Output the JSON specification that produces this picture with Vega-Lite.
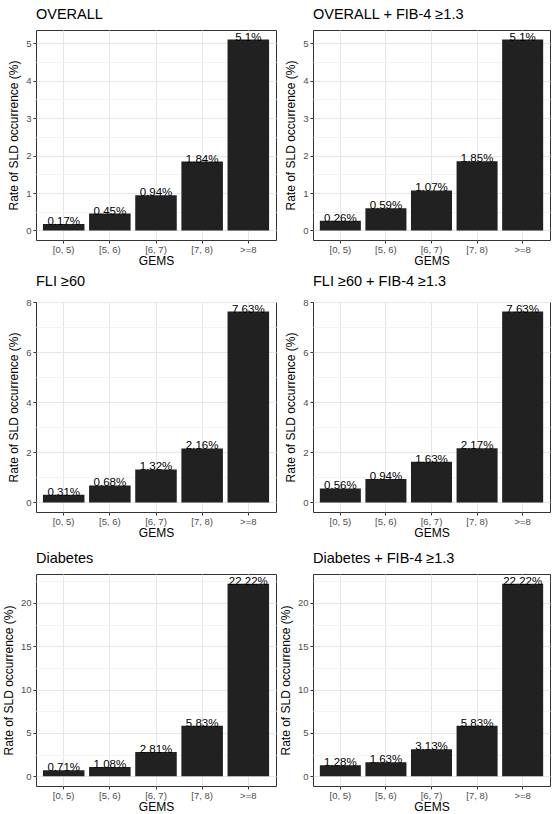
{
  "$schema": "https://vega.github.io/schema/vega-lite/v6.json",
  "padding": {"left": 1, "top": 6, "right": 0, "bottom": 0},
  "background": "white",
  "data": {"values": [
    {"panel": "OVERALL", "gems": "[0, 5)", "rate": 0.17, "label": "0.17%"},
    {"panel": "OVERALL", "gems": "[5, 6)", "rate": 0.45, "label": "0.45%"},
    {"panel": "OVERALL", "gems": "[6, 7)", "rate": 0.94, "label": "0.94%"},
    {"panel": "OVERALL", "gems": "[7, 8)", "rate": 1.84, "label": "1.84%"},
    {"panel": "OVERALL", "gems": ">=8", "rate": 5.1, "label": "5.1%"},
    {"panel": "OVERALL + FIB-4 ≥1.3", "gems": "[0, 5)", "rate": 0.26, "label": "0.26%"},
    {"panel": "OVERALL + FIB-4 ≥1.3", "gems": "[5, 6)", "rate": 0.59, "label": "0.59%"},
    {"panel": "OVERALL + FIB-4 ≥1.3", "gems": "[6, 7)", "rate": 1.07, "label": "1.07%"},
    {"panel": "OVERALL + FIB-4 ≥1.3", "gems": "[7, 8)", "rate": 1.85, "label": "1.85%"},
    {"panel": "OVERALL + FIB-4 ≥1.3", "gems": ">=8", "rate": 5.1, "label": "5.1%"},
    {"panel": "FLI ≥60", "gems": "[0, 5)", "rate": 0.31, "label": "0.31%"},
    {"panel": "FLI ≥60", "gems": "[5, 6)", "rate": 0.68, "label": "0.68%"},
    {"panel": "FLI ≥60", "gems": "[6, 7)", "rate": 1.32, "label": "1.32%"},
    {"panel": "FLI ≥60", "gems": "[7, 8)", "rate": 2.16, "label": "2.16%"},
    {"panel": "FLI ≥60", "gems": ">=8", "rate": 7.63, "label": "7.63%"},
    {"panel": "FLI ≥60 + FIB-4 ≥1.3", "gems": "[0, 5)", "rate": 0.56, "label": "0.56%"},
    {"panel": "FLI ≥60 + FIB-4 ≥1.3", "gems": "[5, 6)", "rate": 0.94, "label": "0.94%"},
    {"panel": "FLI ≥60 + FIB-4 ≥1.3", "gems": "[6, 7)", "rate": 1.63, "label": "1.63%"},
    {"panel": "FLI ≥60 + FIB-4 ≥1.3", "gems": "[7, 8)", "rate": 2.17, "label": "2.17%"},
    {"panel": "FLI ≥60 + FIB-4 ≥1.3", "gems": ">=8", "rate": 7.63, "label": "7.63%"},
    {"panel": "Diabetes", "gems": "[0, 5)", "rate": 0.71, "label": "0.71%"},
    {"panel": "Diabetes", "gems": "[5, 6)", "rate": 1.08, "label": "1.08%"},
    {"panel": "Diabetes", "gems": "[6, 7)", "rate": 2.81, "label": "2.81%"},
    {"panel": "Diabetes", "gems": "[7, 8)", "rate": 5.83, "label": "5.83%"},
    {"panel": "Diabetes", "gems": ">=8", "rate": 22.22, "label": "22.22%"},
    {"panel": "Diabetes + FIB-4 ≥1.3", "gems": "[0, 5)", "rate": 1.28, "label": "1.28%"},
    {"panel": "Diabetes + FIB-4 ≥1.3", "gems": "[5, 6)", "rate": 1.63, "label": "1.63%"},
    {"panel": "Diabetes + FIB-4 ≥1.3", "gems": "[6, 7)", "rate": 3.13, "label": "3.13%"},
    {"panel": "Diabetes + FIB-4 ≥1.3", "gems": "[7, 8)", "rate": 5.83, "label": "5.83%"},
    {"panel": "Diabetes + FIB-4 ≥1.3", "gems": ">=8", "rate": 22.22, "label": "22.22%"}
  ]},
  "columns": 2,
  "bounds": "flush",
  "spacing": {"row": 62, "column": 37},
  "resolve": {"scale": {"x": "independent", "y": "independent"}},
  "concat": [
    {
      "width": 240, "height": 210,
      "title": "OVERALL",
      "transform": [{"filter": {"field": "panel", "equal": "OVERALL"}}],
      "encoding": {
        "x": {"field": "gems", "type": "nominal", "sort": null, "title": "GEMS", "scale": {"paddingInner": 0.1, "paddingOuter": 0.15}},
        "y": {"field": "rate", "type": "quantitative", "title": "Rate of SLD occurrence (%)",
          "scale": {"domain": [-0.255, 5.355], "nice": false, "zero": false},
          "axis": {"values": [0, 0.5, 1, 1.5, 2, 2.5, 3, 3.5, 4, 4.5, 5],
            "labelExpr": "datum.value % 1 === 0 ? '' + datum.value : ''",
            "tickOpacity": {"condition": {"test": "datum.value % 1 !== 0", "value": 0}, "value": 1},
            "gridColor": {"condition": {"test": "datum.value % 1 !== 0", "value": "#F3F3F3"}, "value": "#E6E6E6"}}}
      },
      "layer": [
        {"mark": {"type": "bar", "color": "#212121"}},
        {"mark": {"type": "text", "baseline": "alphabetic", "dy": 1, "fontSize": 11.5, "font": "Liberation Sans", "color": "#000000"}, "encoding": {"text": {"field": "label"}}}
      ]
    },
    {
      "width": 237, "height": 210,
      "title": "OVERALL + FIB-4 ≥1.3",
      "transform": [{"filter": {"field": "panel", "equal": "OVERALL + FIB-4 ≥1.3"}}],
      "encoding": {
        "x": {"field": "gems", "type": "nominal", "sort": null, "title": "GEMS", "scale": {"paddingInner": 0.1, "paddingOuter": 0.15}},
        "y": {"field": "rate", "type": "quantitative", "title": "Rate of SLD occurrence (%)",
          "scale": {"domain": [-0.255, 5.355], "nice": false, "zero": false},
          "axis": {"values": [0, 0.5, 1, 1.5, 2, 2.5, 3, 3.5, 4, 4.5, 5],
            "labelExpr": "datum.value % 1 === 0 ? '' + datum.value : ''",
            "tickOpacity": {"condition": {"test": "datum.value % 1 !== 0", "value": 0}, "value": 1},
            "gridColor": {"condition": {"test": "datum.value % 1 !== 0", "value": "#F3F3F3"}, "value": "#E6E6E6"}}}
      },
      "layer": [
        {"mark": {"type": "bar", "color": "#212121"}},
        {"mark": {"type": "text", "baseline": "alphabetic", "dy": 1, "fontSize": 11.5, "font": "Liberation Sans", "color": "#000000"}, "encoding": {"text": {"field": "label"}}}
      ]
    },
    {
      "width": 240, "height": 210,
      "title": "FLI ≥60",
      "transform": [{"filter": {"field": "panel", "equal": "FLI ≥60"}}],
      "encoding": {
        "x": {"field": "gems", "type": "nominal", "sort": null, "title": "GEMS", "scale": {"paddingInner": 0.1, "paddingOuter": 0.15}},
        "y": {"field": "rate", "type": "quantitative", "title": "Rate of SLD occurrence (%)",
          "scale": {"domain": [-0.3815, 8.0115], "nice": false, "zero": false},
          "axis": {"values": [0, 1, 2, 3, 4, 5, 6, 7, 8],
            "labelExpr": "datum.value % 2 === 0 ? '' + datum.value : ''",
            "tickOpacity": {"condition": {"test": "datum.value % 2 !== 0", "value": 0}, "value": 1},
            "gridColor": {"condition": {"test": "datum.value % 2 !== 0", "value": "#F3F3F3"}, "value": "#E6E6E6"}}}
      },
      "layer": [
        {"mark": {"type": "bar", "color": "#212121"}},
        {"mark": {"type": "text", "baseline": "alphabetic", "dy": 1, "fontSize": 11.5, "font": "Liberation Sans", "color": "#000000"}, "encoding": {"text": {"field": "label"}}}
      ]
    },
    {
      "width": 237, "height": 210,
      "title": "FLI ≥60 + FIB-4 ≥1.3",
      "transform": [{"filter": {"field": "panel", "equal": "FLI ≥60 + FIB-4 ≥1.3"}}],
      "encoding": {
        "x": {"field": "gems", "type": "nominal", "sort": null, "title": "GEMS", "scale": {"paddingInner": 0.1, "paddingOuter": 0.15}},
        "y": {"field": "rate", "type": "quantitative", "title": "Rate of SLD occurrence (%)",
          "scale": {"domain": [-0.3815, 8.0115], "nice": false, "zero": false},
          "axis": {"values": [0, 1, 2, 3, 4, 5, 6, 7, 8],
            "labelExpr": "datum.value % 2 === 0 ? '' + datum.value : ''",
            "tickOpacity": {"condition": {"test": "datum.value % 2 !== 0", "value": 0}, "value": 1},
            "gridColor": {"condition": {"test": "datum.value % 2 !== 0", "value": "#F3F3F3"}, "value": "#E6E6E6"}}}
      },
      "layer": [
        {"mark": {"type": "bar", "color": "#212121"}},
        {"mark": {"type": "text", "baseline": "alphabetic", "dy": 1, "fontSize": 11.5, "font": "Liberation Sans", "color": "#000000"}, "encoding": {"text": {"field": "label"}}}
      ]
    },
    {
      "width": 240, "height": 212,
      "title": "Diabetes",
      "transform": [{"filter": {"field": "panel", "equal": "Diabetes"}}],
      "encoding": {
        "x": {"field": "gems", "type": "nominal", "sort": null, "title": "GEMS", "scale": {"paddingInner": 0.1, "paddingOuter": 0.15}},
        "y": {"field": "rate", "type": "quantitative", "title": "Rate of SLD occurrence (%)",
          "scale": {"domain": [-1.111, 23.331], "nice": false, "zero": false},
          "axis": {"values": [0, 2.5, 5, 7.5, 10, 12.5, 15, 17.5, 20, 22.5],
            "labelExpr": "datum.value % 5 === 0 ? '' + datum.value : ''",
            "tickOpacity": {"condition": {"test": "datum.value % 5 !== 0", "value": 0}, "value": 1},
            "gridColor": {"condition": {"test": "datum.value % 5 !== 0", "value": "#F3F3F3"}, "value": "#E6E6E6"}}}
      },
      "layer": [
        {"mark": {"type": "bar", "color": "#212121"}},
        {"mark": {"type": "text", "baseline": "alphabetic", "dy": 1, "fontSize": 11.5, "font": "Liberation Sans", "color": "#000000"}, "encoding": {"text": {"field": "label"}}}
      ]
    },
    {
      "width": 237, "height": 212,
      "title": "Diabetes + FIB-4 ≥1.3",
      "transform": [{"filter": {"field": "panel", "equal": "Diabetes + FIB-4 ≥1.3"}}],
      "encoding": {
        "x": {"field": "gems", "type": "nominal", "sort": null, "title": "GEMS", "scale": {"paddingInner": 0.1, "paddingOuter": 0.15}},
        "y": {"field": "rate", "type": "quantitative", "title": "Rate of SLD occurrence (%)",
          "scale": {"domain": [-1.111, 23.331], "nice": false, "zero": false},
          "axis": {"values": [0, 2.5, 5, 7.5, 10, 12.5, 15, 17.5, 20, 22.5],
            "labelExpr": "datum.value % 5 === 0 ? '' + datum.value : ''",
            "tickOpacity": {"condition": {"test": "datum.value % 5 !== 0", "value": 0}, "value": 1},
            "gridColor": {"condition": {"test": "datum.value % 5 !== 0", "value": "#F3F3F3"}, "value": "#E6E6E6"}}}
      },
      "layer": [
        {"mark": {"type": "bar", "color": "#212121"}},
        {"mark": {"type": "text", "baseline": "alphabetic", "dy": 1, "fontSize": 11.5, "font": "Liberation Sans", "color": "#000000"}, "encoding": {"text": {"field": "label"}}}
      ]
    }
  ],
  "config": {
    "font": "Liberation Sans",
    "view": {"stroke": "#333333", "strokeWidth": 1},
    "title": {"anchor": "start", "frame": "group", "fontSize": 14.5, "fontWeight": "normal", "color": "#000000", "font": "Liberation Sans", "offset": 8},
    "axis": {
      "domain": false,
      "grid": true,
      "gridColor": "#E6E6E6",
      "gridWidth": 1,
      "tickColor": "#333333",
      "tickSize": 3,
      "labelColor": "#4D4D4D",
      "labelFontSize": 9.5,
      "labelFont": "Liberation Sans",
      "labelPadding": 2,
      "titleFont": "Liberation Sans",
      "titleFontSize": 12,
      "titleFontWeight": "normal",
      "titleColor": "#000000"
    },
    "axisX": {"labelAngle": 0, "bandPosition": 0.5, "titlePadding": 1, "labelPadding": 1.5},
    "axisY": {"titlePadding": 5}
  }
}
